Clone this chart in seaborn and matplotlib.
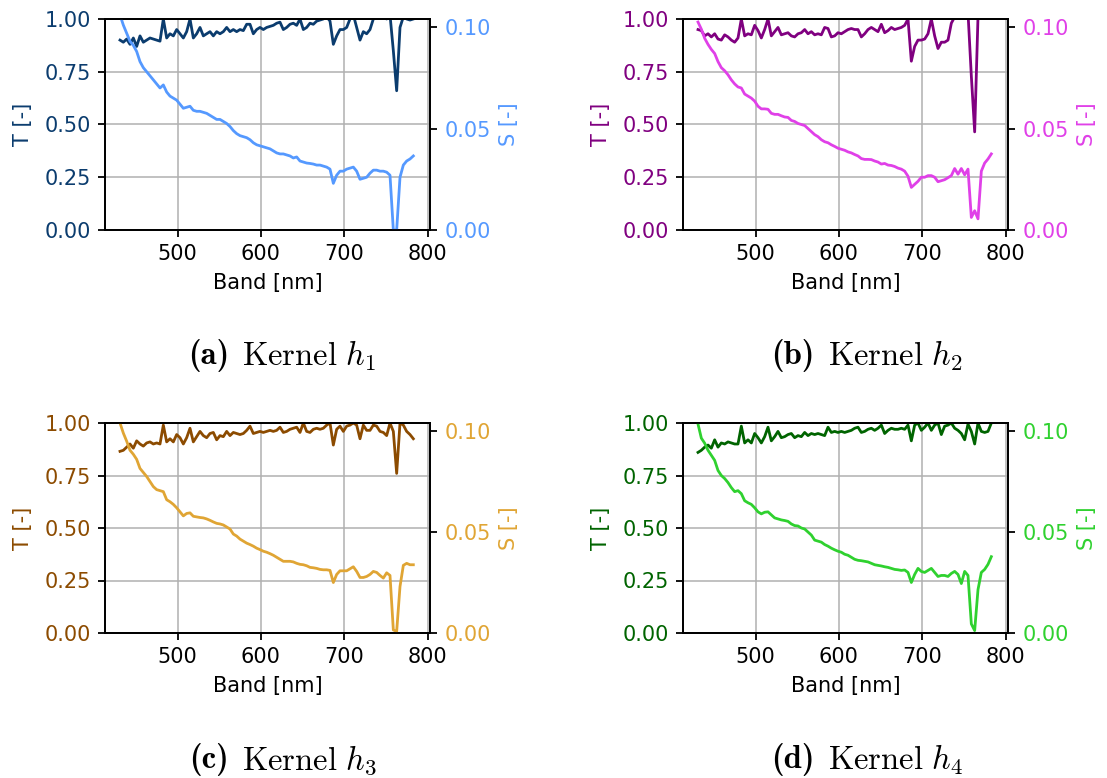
import numpy as np
import matplotlib
matplotlib.use("Agg")
import matplotlib.pyplot as plt
import seaborn as sns

# ---------------- data ----------------
bands = list(range(431, 784, 4))  # 431 ... 783 nm (89 bands)

T_a = [0.90, 0.89, 0.905, 0.88, 0.91, 0.87, 0.92, 0.89, 0.90, 0.91,
       0.905, 0.90, 0.895, 1.00, 0.91, 0.93, 0.92, 0.95, 0.93, 0.91,
       0.94, 1.00, 0.91, 0.93, 0.96, 0.92, 0.93, 0.94, 0.92, 0.94,
       0.93, 0.94, 0.96, 0.94, 0.95, 0.94, 0.95, 0.945, 0.975, 0.975,
       0.93, 0.95, 0.96, 0.95, 0.96, 0.965, 0.97, 0.98, 0.985, 0.95,
       0.96, 0.975, 0.98, 0.97, 1.00, 0.95, 0.96, 0.98, 0.975, 0.99,
       0.995, 1.00, 1.01, 0.99, 0.88, 0.92, 0.95, 0.95, 0.96, 1.00,
       1.02, 0.96, 0.90, 0.94, 0.93, 0.95, 1.00, 1.01, 1.02, 1.01,
       1.00, 1.02, 0.85, 0.66, 0.96, 1.01, 1.00, 0.995, 1.00]
S_a = [0.106, 0.101, 0.097, 0.093, 0.091, 0.088, 0.083, 0.080, 0.078, 0.076,
       0.074, 0.072, 0.070, 0.0715, 0.068, 0.066, 0.065, 0.064, 0.062, 0.060,
       0.0605, 0.061, 0.059, 0.0585, 0.0585, 0.058, 0.0575, 0.0565, 0.0555, 0.0545,
       0.0545, 0.0535, 0.0525, 0.051, 0.049, 0.0475, 0.0465, 0.046, 0.0455, 0.0445,
       0.043, 0.042, 0.0415, 0.041, 0.0405, 0.040, 0.039, 0.038, 0.0375, 0.0375,
       0.037, 0.0365, 0.0355, 0.036, 0.034, 0.0335, 0.033, 0.0328, 0.0325, 0.032,
       0.032, 0.0315, 0.031, 0.030, 0.023, 0.027, 0.029, 0.029, 0.030, 0.0305,
       0.031, 0.029, 0.025, 0.0255, 0.026, 0.028, 0.0295, 0.0295, 0.029, 0.029,
       0.0285, 0.027, 0.0, 0.0, 0.026, 0.032, 0.034, 0.035, 0.0365]

T_b = [0.95, 0.945, 0.92, 0.93, 0.915, 0.93, 0.905, 0.90, 0.925, 0.915,
       0.90, 0.89, 0.91, 1.00, 0.92, 0.93, 0.925, 0.97, 0.945, 0.91,
       0.95, 1.00, 0.92, 0.94, 0.96, 0.925, 0.93, 0.935, 0.92, 0.915,
       0.93, 0.935, 0.95, 0.93, 0.94, 0.925, 0.93, 0.925, 0.96, 0.955,
       0.915, 0.92, 0.935, 0.93, 0.94, 0.95, 0.955, 0.95, 0.95, 0.915,
       0.93, 0.95, 0.96, 0.95, 0.94, 0.975, 0.935, 0.945, 0.96, 0.95,
       0.955, 0.96, 0.97, 1.00, 0.80, 0.87, 0.90, 0.90, 0.905, 0.93,
       1.00, 0.92, 0.86, 0.89, 0.89, 0.90, 0.98, 1.01, 1.02, 1.03,
       1.02, 1.03, 0.73, 0.465, 1.01, 1.02, 1.03, 1.02, 1.02]
S_b = [0.1025, 0.099, 0.0945, 0.0915, 0.089, 0.087, 0.083, 0.080, 0.0785, 0.0765,
       0.074, 0.072, 0.0705, 0.070, 0.067, 0.066, 0.065, 0.0635, 0.061, 0.0597,
       0.0597, 0.0595, 0.0575, 0.057, 0.057, 0.0563, 0.0557, 0.0555, 0.054, 0.0535,
       0.0525, 0.052, 0.0515, 0.050, 0.0485, 0.047, 0.046, 0.0445, 0.0435, 0.043,
       0.042, 0.0412, 0.0403, 0.0398, 0.0393, 0.0385, 0.038, 0.0372, 0.0365, 0.0352,
       0.0348, 0.0348, 0.0347, 0.034, 0.0335, 0.0325, 0.0328, 0.032, 0.0318, 0.0313,
       0.0305, 0.030, 0.029, 0.0265, 0.021, 0.0225, 0.024, 0.026, 0.026, 0.0268,
       0.0268, 0.026, 0.0238, 0.0243, 0.0248, 0.0258, 0.0268, 0.0303, 0.0275, 0.0303,
       0.0272, 0.030, 0.0062, 0.0095, 0.0055, 0.029, 0.033, 0.035, 0.0375]

T_c = [0.865, 0.87, 0.885, 0.90, 0.88, 0.915, 0.90, 0.89, 0.905, 0.91,
       0.90, 0.905, 0.90, 0.99, 0.91, 0.925, 0.91, 0.945, 0.93, 0.90,
       0.93, 0.975, 0.91, 0.935, 0.96, 0.94, 0.93, 0.95, 0.955, 0.92,
       0.94, 0.935, 0.96, 0.94, 0.955, 0.95, 0.945, 0.95, 0.965, 0.985,
       0.95, 0.955, 0.96, 0.955, 0.96, 0.965, 0.96, 0.965, 0.98, 0.955,
       0.96, 0.97, 0.975, 0.98, 0.955, 1.00, 0.96, 0.955, 0.97, 0.975,
       0.97, 0.975, 0.99, 1.00, 0.895, 0.97, 0.985, 0.96, 0.985, 0.99,
       1.00, 0.99, 0.925, 0.99, 0.965, 0.965, 0.99, 0.985, 0.96, 0.955,
       0.94, 1.00, 0.96, 0.76, 1.00, 0.99, 0.96, 0.945, 0.925]
S_c = [0.104, 0.099, 0.095, 0.0905, 0.0885, 0.086, 0.0815, 0.0795, 0.0775, 0.075,
       0.0725, 0.071, 0.0705, 0.070, 0.066, 0.065, 0.0637, 0.062, 0.060, 0.058,
       0.0592, 0.0595, 0.0578, 0.0575, 0.0572, 0.057, 0.0565, 0.0558, 0.055, 0.0543,
       0.054, 0.0535, 0.0525, 0.0515, 0.049, 0.048, 0.0465, 0.0455, 0.0445, 0.0438,
       0.043, 0.042, 0.0413, 0.0405, 0.040, 0.0393, 0.0385, 0.0375, 0.0365, 0.0355,
       0.0355, 0.0355, 0.0352, 0.0345, 0.034, 0.0338, 0.0333, 0.0325, 0.0323, 0.032,
       0.0315, 0.0313, 0.0313, 0.031, 0.025, 0.029, 0.0308, 0.0308, 0.0308, 0.0318,
       0.0328, 0.0305, 0.0275, 0.0275, 0.028, 0.029, 0.0305, 0.030, 0.0285, 0.0272,
       0.0298, 0.0285, 0.0015, 0.0008, 0.023, 0.0335, 0.0345, 0.0338, 0.0338]

T_d = [0.86, 0.87, 0.885, 0.895, 0.88, 0.92, 0.885, 0.905, 0.90, 0.91,
       0.905, 0.90, 0.90, 0.985, 0.905, 0.92, 0.905, 0.95, 0.93, 0.905,
       0.935, 0.98, 0.915, 0.935, 0.96, 0.93, 0.935, 0.945, 0.95, 0.93,
       0.94, 0.935, 0.955, 0.94, 0.95, 0.945, 0.95, 0.945, 0.94, 0.98,
       0.955, 0.96, 0.955, 0.96, 0.955, 0.96, 0.965, 0.975, 0.98, 0.955,
       0.96, 0.97, 0.975, 0.965, 0.975, 0.99, 0.95, 0.965, 0.975, 0.97,
       0.97, 0.975, 0.97, 0.99, 0.915, 0.99, 1.00, 0.965, 0.98, 1.00,
       0.965, 0.99, 1.00, 0.945, 0.985, 0.99, 1.00, 0.975, 0.965, 0.95,
       0.92, 0.995, 0.96, 0.90, 1.00, 0.96, 0.955, 0.96, 1.00]
S_d = [0.1035, 0.0965, 0.094, 0.0905, 0.088, 0.0855, 0.0805, 0.078, 0.0765, 0.0745,
       0.072, 0.070, 0.0705, 0.069, 0.0655, 0.0645, 0.0637, 0.062, 0.060, 0.059,
       0.0598, 0.060, 0.0585, 0.057, 0.0565, 0.056, 0.0557, 0.0553, 0.054, 0.0532,
       0.053, 0.052, 0.0515, 0.050, 0.0485, 0.046, 0.0455, 0.045, 0.0438, 0.043,
       0.042, 0.0412, 0.0405, 0.040, 0.039, 0.0385, 0.0375, 0.0365, 0.036, 0.0358,
       0.0355, 0.0352, 0.0345, 0.0338, 0.0335, 0.0332, 0.0328, 0.0325, 0.032, 0.0315,
       0.0313, 0.031, 0.0312, 0.030, 0.025, 0.029, 0.032, 0.0305, 0.030, 0.031,
       0.032, 0.030, 0.028, 0.0285, 0.0285, 0.028, 0.0295, 0.0305, 0.029, 0.0245,
       0.0305, 0.0285, 0.0045, 0.0012, 0.0215, 0.030, 0.0315, 0.034, 0.0378]

T_series = [T_a, T_b, T_c, T_d]
S_series = [S_a, S_b, S_c, S_d]
T_colors = ["#0b3c6e", "#800080", "#8c4b00", "#006400"]
S_colors = ["#5599ff", "#e040e8", "#e0a534", "#2fd12f"]
cap_tags = ["(a)", "(b)", "(c)", "(d)"]
cap_texts = [r"$\mathrm{Kernel}\ h_1$", r"$\mathrm{Kernel}\ h_2$",
             r"$\mathrm{Kernel}\ h_3$", r"$\mathrm{Kernel}\ h_4$"]
x_ticks = [500, 600, 700, 800]
T_ticks = [0.00, 0.25, 0.50, 0.75, 1.00]
S_ticks = [0.00, 0.05, 0.10]

# ---------------- figure ----------------
plt.rcParams["mathtext.fontset"] = "cm"
plt.rcParams["font.family"] = ["DejaVu Sans"]

W, H = 1107, 778
fig = plt.figure(figsize=(W / 100, H / 100), dpi=100)

# axes boxes in pixels: (left, top, right, bottom)
boxes = [(105, 19, 430, 230), (683, 19, 1008, 230),
         (105, 423, 430, 633), (683, 423, 1008, 633)]
# caption split x (between tag and text) and centre y
cap_pos = [(229, 352), (815, 352), (229, 756), (815, 756)]

FS = 15
CFS = 23.5
for i in range(4):
    l, t, r, b = boxes[i]
    ax = fig.add_axes([l / W, 1 - b / H, (r - l) / W, (b - t) / H])
    ax2 = ax.twinx()
    sns.lineplot(x=bands, y=T_series[i], ax=ax, color=T_colors[i], lw=2.0)
    sns.lineplot(x=bands, y=S_series[i], ax=ax2, color=S_colors[i], lw=2.0)

    ax.set_xlim(413, 803)
    ax.set_ylim(0, 1)
    ax2.set_ylim(0, 0.104)
    ax.set_xticks(x_ticks)
    ax.set_yticks(T_ticks)
    ax2.set_yticks(S_ticks)
    ax.set_yticklabels([f"{v:.2f}" for v in T_ticks])
    ax2.set_yticklabels([f"{v:.2f}" for v in S_ticks])
    ax.grid(True, color="#b0b0b0", lw=1.1)
    ax.set_axisbelow(True)

    for a in (ax, ax2):
        for sp in a.spines.values():
            sp.set_linewidth(1.3)
            sp.set_color("black")
        a.tick_params(length=4.8, width=1.3, pad=5.5, labelsize=FS)

    ax.tick_params(axis="y", labelcolor=T_colors[i])
    ax2.tick_params(axis="y", labelcolor=S_colors[i])
    ax.set_xlabel("Band [nm]", fontsize=FS, labelpad=6)
    ax.set_ylabel("T [-]", fontsize=FS, color=T_colors[i], labelpad=8)
    ax2.set_ylabel("S [-]", fontsize=FS, color=S_colors[i], labelpad=6)

    cx, cy = cap_pos[i]
    fig.text(cx / W, 1 - cy / H, cap_tags[i], fontsize=CFS,
             family="cmb10", ha="right", va="center_baseline")
    fig.text((cx + 13) / W, 1 - cy / H, cap_texts[i], fontsize=CFS,
             ha="left", va="center_baseline")

fig.savefig("out.png", dpi=100)
